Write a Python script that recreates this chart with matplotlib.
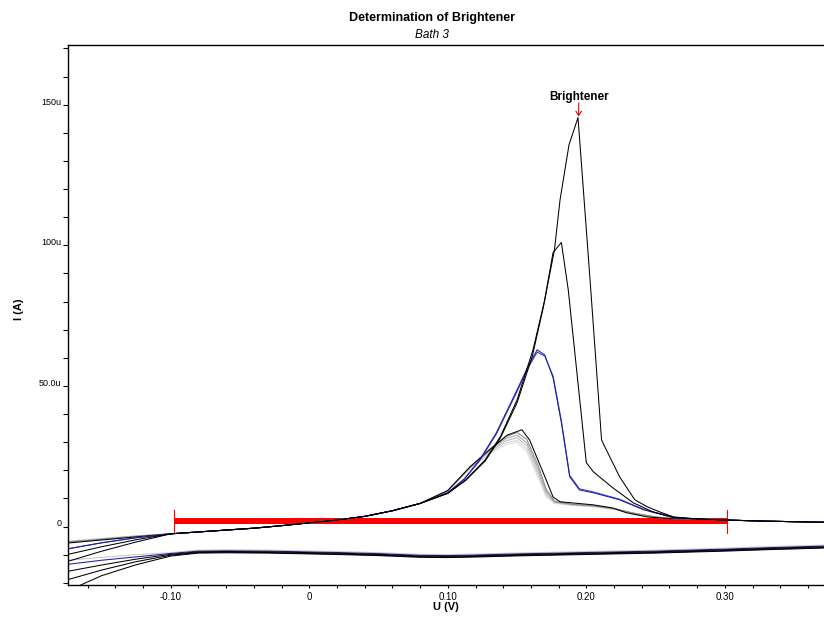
import matplotlib.pyplot as plt
from matplotlib.ticker import MultipleLocator

plt.rcParams['font.family'] = ['Liberation Sans', 'DejaVu Sans']

# forward scan pieces shared by all curves (U in V, I in uA)
tail_V = [-0.175, -0.15, -0.125]
base_V = [-0.10, -0.07, -0.04, -0.02, 0.0, 0.02, 0.04, 0.06, 0.08]
base_I = [-2.6, -1.6, -0.6, 0.3, 1.3, 2.3, 3.6, 5.6, 8.2]
end_V = [0.28, 0.30, 0.33, 0.372]
end_I = [2.7, 2.3, 1.9, 1.5]

# gray family of small peaks, lightest first
gray_V = [0.10, 0.116, 0.130, 0.142, 0.150, 0.157, 0.165, 0.171, 0.177, 0.19, 0.205, 0.22, 0.235, 0.25, 0.265]
gray_I = [
    [12.5, 20.5, 25.8, 29.0, 29.8, 26.5, 17.5, 10.5, 8.2, 7.5, 7.0, 6.0, 4.2, 3.2, 2.7],
    [12.6, 20.7, 26.2, 29.7, 30.6, 27.5, 18.5, 11.0, 8.4, 7.6, 7.1, 6.1, 4.4, 3.3, 2.7],
    [12.7, 20.9, 26.6, 30.5, 31.5, 28.7, 19.6, 11.8, 8.6, 7.7, 7.2, 6.2, 4.5, 3.3, 2.7],
    [12.7, 21.0, 26.9, 31.3, 32.4, 29.8, 20.8, 12.5, 8.8, 7.8, 7.3, 6.3, 4.6, 3.4, 2.7],
    [12.8, 21.1, 27.1, 32.0, 33.4, 31.0, 22.0, 13.3, 9.0, 7.9, 7.4, 6.4, 4.7, 3.4, 2.7],
]
gray_tail = [
    [-5.2, -4.2, -3.3],
    [-5.3, -4.3, -3.4],
    [-5.4, -4.4, -3.4],
    [-5.5, -4.5, -3.5],
    [-5.6, -4.6, -3.5],
]
gray_colors = ['#e2e2e2', '#d0d0d0', '#bdbdbd', '#a6a6a6', '#8a8a8a']

small_V = [0.10, 0.116, 0.130, 0.143, 0.1535, 0.159, 0.169, 0.176, 0.181, 0.205, 0.219, 0.229, 0.244, 0.263]
small_I = [12.8, 21.2, 27.3, 32.5, 34.4, 30.8, 19.0, 10.5, 8.8, 7.7, 6.6, 4.9, 3.4, 2.7]
small_tail = [-5.9, -4.8, -3.7]

blue_V = [0.10, 0.112, 0.123, 0.135, 0.150, 0.158, 0.1645, 0.170, 0.176, 0.182, 0.188, 0.195, 0.205, 0.224, 0.241, 0.263]
blue_I = [12.0, 17.0, 23.7, 33.3, 48.6, 57.0, 62.8, 61.0, 52.9, 36.9, 17.7, 13.0, 12.0, 9.5, 6.0, 3.1]
blue2_I = [12.0, 16.8, 23.4, 32.8, 48.0, 56.4, 62.0, 60.6, 53.5, 37.6, 18.2, 13.4, 12.3, 9.7, 6.2, 3.2]
blue_tail = [-8.0, -5.8, -4.0]

mid_V = [0.10, 0.113, 0.127, 0.138, 0.150, 0.161, 0.169, 0.176, 0.182, 0.187, 0.200, 0.205, 0.219, 0.234, 0.248, 0.265]
mid_I = [11.8, 16.4, 23.3, 31.5, 44.0, 60.5, 78.0, 97.4, 101.0, 84.0, 22.7, 19.5, 13.8, 8.4, 5.2, 3.1]
mid_tail = [-10.0, -7.2, -4.7]

big_V = [0.10, 0.113, 0.127, 0.138, 0.150, 0.1615, 0.170, 0.177, 0.181, 0.1875, 0.194, 0.2027, 0.211, 0.213, 0.224, 0.235, 0.244, 0.254, 0.263]
big_I = [11.8, 16.6, 23.7, 32.0, 45.0, 62.8, 80.6, 98.4, 116.0, 135.7, 145.4, 87.7, 30.8, 28.7, 17.7, 9.5, 7.0, 5.0, 3.4]
big_tail = [-12.5, -8.8, -5.5]

# reverse scan (right to left)
rev_V = [0.372, 0.33, 0.30, 0.25, 0.20, 0.15, 0.12, 0.10, 0.08, 0.05, 0.02, 0.0, -0.03, -0.06, -0.08]
rev_I = [-7.2, -7.8, -8.3, -9.0, -9.5, -10.0, -10.4, -10.6, -10.5, -9.9, -9.5, -9.3, -9.0, -8.9, -9.0]
rev_tail_V = [-0.10, -0.125, -0.15, -0.175]
rev_tails = [
    [-9.3, -10.0, -11.0, -12.0],
    [-9.6, -10.8, -12.0, -13.5],
    [-9.9, -11.6, -13.7, -16.0],
    [-10.2, -12.5, -15.5, -19.0],
    [-10.5, -13.6, -17.5, -23.0],
]
rev_shift = [0.6, 0.25, 0.0, -0.25, -0.45]
rev_colors = ['#c8c8c8', '#1c1ca8', 'black', 'black', 'black']

# red integration bar
bar_V = [-0.0975, 0.3014]
bar_I = 1.9


def forward(ax, tail, V, I, color):
    ax.plot(tail_V + base_V + V + end_V, tail + base_I + I + end_I,
            color=color, lw=0.75, zorder=2)


fig = plt.figure(figsize=(8.24, 6.19), dpi=100)
ax = fig.add_axes([68 / 824, 1 - 585 / 619, 756 / 824, 540 / 619])

ax.plot(bar_V, [bar_I, bar_I], color='red', lw=4.3, solid_capstyle='butt', zorder=1.5)
for v in bar_V:
    ax.plot([v, v], [-2.2, 5.9], color='red', lw=0.8, zorder=1.5)

for k in range(len(rev_tails)):
    ax.plot(rev_V + rev_tail_V, [i + rev_shift[k] for i in rev_I] + rev_tails[k],
            color=rev_colors[k], lw=0.75, zorder=2)

for k in range(len(gray_I)):
    forward(ax, gray_tail[k], gray_V, gray_I[k], gray_colors[k])
forward(ax, small_tail, small_V, small_I, 'black')
forward(ax, blue_tail, blue_V, blue2_I, '#3a3ab8')
forward(ax, blue_tail, blue_V, blue_I, '#1c1ca8')
forward(ax, mid_tail, mid_V, mid_I, 'black')
forward(ax, big_tail, big_V, big_I, 'black')

ax.text(0.1945, 150.6, 'Brightener', ha='center', va='bottom',
        fontsize=8.5, fontweight='bold')
ax.annotate('', xy=(0.1945, 145.8), xytext=(0.1945, 150.6),
            arrowprops=dict(arrowstyle='->,head_width=0.2,head_length=0.3',
                            color='#e00000', lw=0.8, shrinkA=0, shrinkB=0))

ax.set_xlim(-0.1742, 0.3716)
ax.set_ylim(-20.8, 171.2)

ax.set_xticks([-0.1, 0.0, 0.1, 0.2, 0.3])
ax.set_xticklabels(['-0.10', '0', '0.10', '0.20', '0.30'])
ax.xaxis.set_minor_locator(MultipleLocator(0.02))
ax.set_yticks([0, 50, 100, 150])
ax.set_yticklabels(['0', '50.0u', '100u', '150u'])
ax.yaxis.set_minor_locator(MultipleLocator(10))

ax.tick_params(axis='x', which='both', direction='out', length=2.2, width=0.8,
               labelsize=7, pad=2.5)
ax.tick_params(axis='y', which='both', direction='out', length=3.6, width=0.8,
               labelsize=6.5, pad=1)
for lab in ax.get_yticklabels():
    lab.set_verticalalignment('baseline')

ax.spines['right'].set_visible(False)
for s in ['left', 'bottom', 'top']:
    ax.spines[s].set_linewidth(1.0)

ax.set_xlabel('U (V)', fontsize=8, fontweight='bold')
ax.xaxis.set_label_coords(0.5, -0.032)
ax.set_ylabel('I (A)', fontsize=8, fontweight='bold')
ax.yaxis.set_label_coords(-0.058, 0.51)

fig.text(0.524, 1 - 18 / 619, 'Determination of Brightener', ha='center', va='center',
         fontsize=9, fontweight='bold')
fig.text(0.524, 1 - 35 / 619, 'Bath 3', ha='center', va='center',
         fontsize=8.5, fontstyle='italic')

fig.savefig('out.png', dpi=100)
